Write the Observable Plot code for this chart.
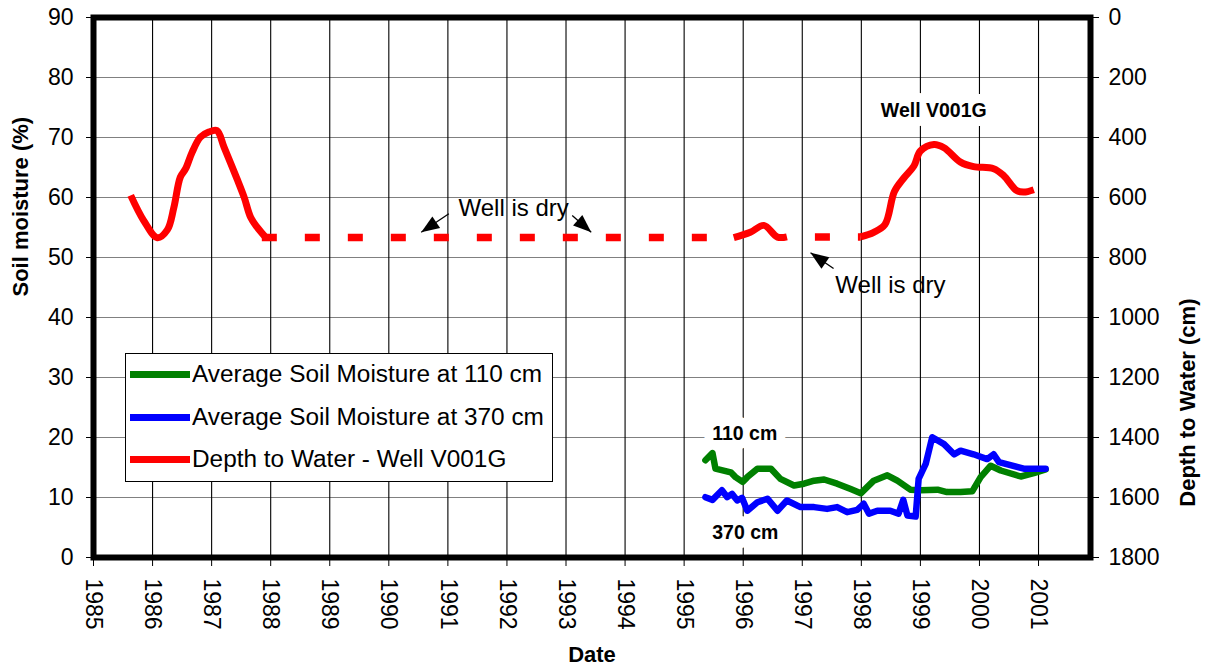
<!DOCTYPE html>
<html>
<head>
<meta charset="utf-8">
<script src="https://cdn.jsdelivr.net/npm/d3@7"></script>
<script src="https://cdn.jsdelivr.net/npm/@observablehq/plot@0.6"></script>
<style>
  body { margin: 0; background: #fff; }
  #wrap { position: relative; width: 1207px; height: 668px; font-family: "Liberation Sans", Arial, sans-serif; }
  #legend { position: absolute; left: 125px; top: 353px; width: 426px; height: 127px; border: 1px solid #000; background: #fff; }
  .row { position: absolute; left: 4px; height: 30px; display: flex; align-items: center; white-space: nowrap; }
  .sw { width: 60px; height: 7px; margin-right: 2px; }
  .lab { font-size: 23px; color: #000; display: inline-block; transform: scaleX(1.06); transform-origin: left center; }
</style>
</head>
<body>
<div id="wrap"></div>
<script>
// ---- tick labels ----
const moistureTicks = [0, 10, 20, 30, 40, 50, 60, 70, 80, 90];
const depthTicks = [0, 200, 400, 600, 800, 1000, 1200, 1400, 1600, 1800];
const yearTicks = [1985, 1986, 1987, 1988, 1989, 1990, 1991, 1992, 1993, 1994, 1995, 1996, 1997, 1998, 1999, 2000, 2001];

// ---- series names ----
const seriesNames = ["Average Soil Moisture at 110 cm", "Average Soil Moisture at 370 cm", "Depth to Water - Well V001G"];
const seriesColors = ["#008000", "#0000ff", "#ff0000"];

// ---- Depth to water (cm), well V001G: measured pieces ----
const well1Year  = [1985.63, 1985.85, 1986.08, 1986.25, 1986.36, 1986.47, 1986.56, 1986.67, 1986.81, 1986.95, 1987.09, 1987.21, 1987.43, 1987.55, 1987.66, 1987.77, 1987.91];
const well1Depth = [593, 677, 734, 708, 634, 532, 504, 449, 399, 382, 377, 432, 538, 599, 666, 699, 732];
const well2Year  = [1995.84, 1996.12, 1996.35, 1996.58, 1996.74];
const well2Depth = [734, 716, 693, 732, 731];
const well3Year  = [1997.99, 1998.21, 1998.40, 1998.56, 1998.72, 1998.89, 1999.00, 1999.23, 1999.40, 1999.68, 1999.90, 2000.24, 2000.41, 2000.63, 2000.75, 2000.92];
const well3Depth = [731, 716, 690, 580, 535, 495, 445, 423, 434, 482, 497, 504, 527, 577, 582, 574];
// ---- well is dry (dashed) ----
const dry1Year  = [1987.85, 1995.84];
const dry1Depth = [733, 733];
const dry2Year  = [1996.74, 1997.99];
const dry2Depth = [732, 732];

// ---- Average soil moisture at 110 cm (%) ----
const sm110Year  = [1995.36, 1995.48, 1995.53, 1995.79, 1995.87, 1995.99, 1996.07, 1996.24, 1996.47, 1996.63, 1996.86, 1997.03, 1997.20, 1997.37, 1997.59, 1997.82, 1997.99, 1998.21, 1998.44, 1998.61, 1998.83, 1999.00, 1999.29, 1999.45, 1999.68, 1999.88, 2000.02, 2000.19, 2000.36, 2000.70, 2000.92, 2001.12];
const sm110Value = [16.2, 17.4, 14.8, 14.2, 13.4, 12.6, 13.4, 14.8, 14.8, 13.1, 12.0, 12.3, 12.8, 13.0, 12.3, 11.4, 10.7, 12.8, 13.7, 12.8, 11.3, 11.2, 11.3, 10.9, 10.9, 11.05, 13.4, 15.3, 14.5, 13.5, 14.05, 14.7];

// ---- Average soil moisture at 370 cm (%) ----
const sm370Year  = [1995.36, 1995.48, 1995.64, 1995.73, 1995.81, 1995.90, 1995.98, 1996.07, 1996.24, 1996.41, 1996.58, 1996.74, 1996.97, 1997.20, 1997.42, 1997.59, 1997.76, 1997.93, 1998.04, 1998.13, 1998.27, 1998.49, 1998.63, 1998.71, 1998.78, 1998.92, 1998.97, 1999.09, 1999.20, 1999.40, 1999.57, 1999.68, 1999.90, 2000.13, 2000.24, 2000.33, 2000.75, 2001.12];
const sm370Value = [10.05, 9.6, 11.2, 10.05, 10.6, 9.5, 9.95, 7.8, 9.2, 9.8, 7.8, 9.5, 8.4, 8.4, 8.1, 8.4, 7.55, 7.95, 8.95, 7.3, 7.8, 7.8, 7.3, 9.6, 7.0, 6.83, 13.1, 15.6, 20.05, 18.9, 17.2, 17.8, 17.2, 16.4, 17.2, 15.9, 14.8, 14.8];

// ---- annotations ----
const noteText  = ["Well is dry", "Well is dry"];
const noteYear  = [1991.18, 1997.56];
const noteValue = [58.25, 45.3];
const tagText   = ["Well V001G", "110 cm", "370 cm"];
const tagYear   = [1998.33, 1995.475, 1995.475];
const tagValue  = [74.5, 20.7, 4.17];
const arrowFromYear  = [1991.016, 1993.105, 1997.53];
const arrowFromValue = [57.28, 57.0, 48.17];
const arrowToYear    = [1990.549, 1993.427, 1997.14];
const arrowToValue   = [54.22, 54.22, 50.78];

// depth (cm) shown on the right axis maps onto the left moisture scale
const depthToY = d => 90 - d / 20;
const yToDepth = v => Math.round((90 - v) * 20);

const W = 1207, H = 668, mL = 93, mR = 117, mT = 17, mB = 111;
const xDomain = [1985, 2001.88], yDomain = [0, 90];
const pxPerYear = (W - mL - mR) / (xDomain[1] - xDomain[0]);
const pxPerUnit = (H - mT - mB) / (yDomain[1] - yDomain[0]);

const pts = (xs, ys) => xs.map((x, i) => ({x, y: ys[i]}));
const wellPts = (xs, ds) => xs.map((x, i) => ({x, y: depthToY(ds[i])}));

const notes = noteText.map((t, i) => ({t, x: noteYear[i], y: noteValue[i]}));
const tags = tagText.map((t, i) => ({t, x: tagYear[i], y: tagValue[i]}));
const arrows = arrowFromYear.map((x, i) => {
  const dxp = (arrowToYear[i] - x) * pxPerYear;
  const dyp = -(arrowToValue[i] - arrowFromValue[i]) * pxPerUnit;
  return {x1: x, y1: arrowFromValue[i], x2: arrowToYear[i], y2: arrowToValue[i], angle: Math.atan2(dyp, dxp) * 180 / Math.PI};
});

// filled arrowhead, tip at origin, pointing along +x
const arrowHead = {
  draw(context) {
    context.moveTo(0, 0);
    context.lineTo(-18, -7);
    context.lineTo(-18, 7);
    context.closePath();
  }
};

const font = "'Liberation Sans', Arial, sans-serif";

const chart = Plot.plot({
  width: W,
  height: H,
  marginLeft: mL,
  marginRight: mR,
  marginTop: mT,
  marginBottom: mB,
  style: {fontFamily: font, fontSize: "23px", color: "black", background: "white", overflow: "visible"},
  x: {domain: xDomain},
  y: {domain: yDomain},
  marks: [
    Plot.gridY(moistureTicks.slice(1, -1), {stroke: "#808080", strokeOpacity: 1, strokeWidth: 1.2}),
    Plot.gridX(yearTicks.slice(1), {stroke: "black", strokeOpacity: 1, strokeWidth: 1.1}),
    Plot.axisY(moistureTicks, {anchor: "left", tickSize: 7, tickPadding: 13, label: null, fontSize: 23}),
    Plot.axisY(depthTicks.map(depthToY), {anchor: "right", tickSize: 8, tickPadding: 10, label: null, fontSize: 23, tickFormat: v => String(yToDepth(v))}),
    Plot.axisX(yearTicks, {anchor: "bottom", tickSize: 9, tickPadding: 12, tickRotate: 90, label: null, fontSize: 23, tickFormat: d => String(d)}),
    // titles
    Plot.text(["Soil moisture (%)"], {frameAnchor: "left", dx: -73, dy: 9, rotate: -90, fontWeight: "bold", fontSize: 22, fill: "black"}),
    Plot.text(["Depth to Water (cm)"], {frameAnchor: "right", dx: 97, dy: 11, rotate: -90, fontWeight: "bold", fontSize: 22, fill: "black"}),
    Plot.text(["Date"], {frameAnchor: "bottom", dy: 104, fontWeight: "bold", fontSize: 22, fill: "black"}),
    // depth to water
    Plot.line(wellPts(dry1Year, dry1Depth), {x: "x", y: "y", stroke: seriesColors[2], strokeWidth: 7.5, strokeDasharray: "15,28", strokeLinecap: "butt"}),
    Plot.line(wellPts(dry2Year, dry2Depth), {x: "x", y: "y", stroke: seriesColors[2], strokeWidth: 7.5, strokeDasharray: "15,28", strokeDashoffset: 15, strokeLinecap: "butt"}),
    Plot.line(wellPts(well1Year, well1Depth), {x: "x", y: "y", stroke: seriesColors[2], strokeWidth: 7, curve: "catmull-rom", strokeLinejoin: "round", strokeLinecap: "butt"}),
    Plot.line(wellPts(well2Year, well2Depth), {x: "x", y: "y", stroke: seriesColors[2], strokeWidth: 7, curve: "catmull-rom", strokeLinejoin: "round", strokeLinecap: "butt"}),
    Plot.line(wellPts(well3Year, well3Depth), {x: "x", y: "y", stroke: seriesColors[2], strokeWidth: 7, curve: "catmull-rom", strokeLinejoin: "round", strokeLinecap: "butt"}),
    // soil moisture
    Plot.line(pts(sm110Year, sm110Value), {x: "x", y: "y", stroke: seriesColors[0], strokeWidth: 6.5, strokeLinejoin: "round"}),
    Plot.line(pts(sm370Year, sm370Value), {x: "x", y: "y", stroke: seriesColors[1], strokeWidth: 6.5, strokeLinejoin: "round"}),
    // annotations
    Plot.link(arrows, {x1: "x1", y1: "y1", x2: "x2", y2: "y2", stroke: "black", strokeWidth: 1.3}),
    Plot.dot(arrows, {x: "x2", y: "y2", symbol: arrowHead, rotate: "angle", fill: "black", stroke: "none", r: 5}),
    Plot.text(notes, {x: "x", y: "y", text: "t", textAnchor: "start", fontSize: 24, fill: "black"}),
    Plot.text(tags, {x: "x", y: "y", text: "t", textAnchor: "start", fontSize: 19.5, fontWeight: "bold", fill: "black", stroke: "white", strokeWidth: 18, strokeLinejoin: "round", paintOrder: "stroke"}),
    Plot.frame({stroke: "black", strokeWidth: 6})
  ]
});

const wrap = document.getElementById("wrap");
wrap.appendChild(chart);

// legend inside the plot area
const legend = document.createElement("div");
legend.id = "legend";
const rowTops = [5, 48, 90];
seriesNames.forEach((name, i) => {
  const row = document.createElement("div");
  row.className = "row";
  row.style.top = rowTops[i] + "px";
  const sw = document.createElement("span");
  sw.className = "sw";
  sw.style.background = seriesColors[i];
  const lab = document.createElement("span");
  lab.className = "lab";
  lab.textContent = name;
  row.appendChild(sw);
  row.appendChild(lab);
  legend.appendChild(row);
});
wrap.appendChild(legend);
</script>
</body>
</html>
